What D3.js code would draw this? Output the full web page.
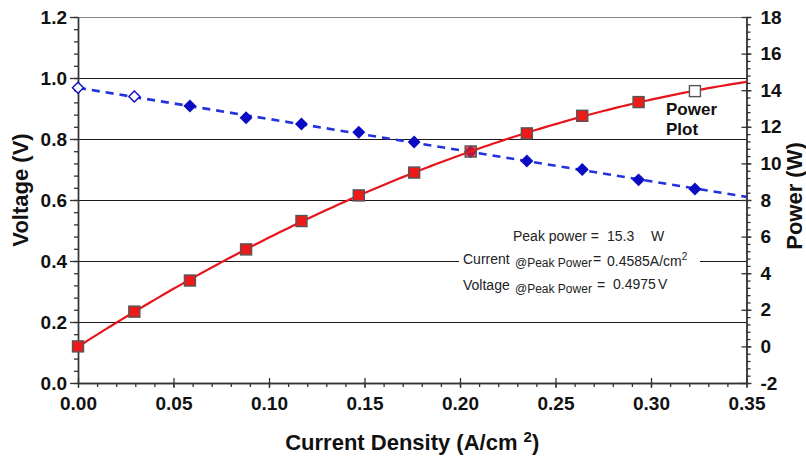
<!DOCTYPE html>
<html>
<head>
<meta charset="utf-8">
<script src="https://cdn.jsdelivr.net/npm/d3@7"></script>
<style>
  body { margin: 0; background: #fff; }
  svg { display: block; font-family: "Liberation Sans", Arial, sans-serif; }
</style>
</head>
<body>
<div id="chart"></div>
<script>
// Measured points (current density in A/cm2, voltage in V, power in W)
const currentDensity = [0.000, 0.0295, 0.0586, 0.088, 0.117, 0.147, 0.176, 0.2056, 0.235, 0.264, 0.2935, 0.323];
const voltage = [0.968, 0.939, 0.908, 0.870, 0.849, 0.822, 0.790, 0.758, 0.728, 0.700, 0.666, 0.636];
const power = [0.0, 1.9, 3.6, 5.3, 6.85, 8.25, 9.5, 10.65, 11.64, 12.6, 13.35, 13.95];

// Tick values
const currentTicks = [0, 0.05, 0.10, 0.15, 0.20, 0.25, 0.30, 0.35];
const voltageTicks = [0, 0.2, 0.4, 0.6, 0.8, 1.0, 1.2];
const powerTicks = [-2, 0, 2, 4, 6, 8, 10, 12, 14, 16, 18];

const width = 806, height = 457;
const margin = { top: 17, right: 59.5, bottom: 74, left: 78 };

const svg = d3.select("#chart")
    .append("svg")
    .attr("width", width)
    .attr("height", height);

const x = d3.scaleLinear().domain([0, 0.35]).range([margin.left, width - margin.right]);
const yV = d3.scaleLinear().domain([0, 1.2]).range([height - margin.bottom, margin.top]);
const yP = d3.scaleLinear().domain([-2, 18]).range([height - margin.bottom, margin.top]);

// horizontal grid lines
svg.append("g")
    .selectAll("line")
    .data(voltageTicks.filter(d => d > 0))
    .join("line")
    .attr("x1", x(0))
    .attr("x2", x(0.35))
    .attr("y1", d => Math.round(yV(d)) + 0.5)
    .attr("y2", d => Math.round(yV(d)) + 0.5)
    .attr("stroke", d => d === 1.2 ? "#8a8a8a" : "#1a1a1a")
    .attr("stroke-width", 1.1);

// ---- axes ----
function styleAxis(g) {
    g.select(".domain").attr("stroke", "#333").attr("stroke-width", 1.4);
    g.selectAll(".tick line").attr("stroke", "#333").attr("stroke-width", 1.3);
    g.selectAll("text")
        .attr("font-family", "Liberation Sans, Arial, sans-serif")
        .attr("font-size", 19)
        .attr("font-weight", "bold")
        .attr("fill", "#111");
}

// left minor + major
svg.append("g")
    .attr("transform", `translate(${x(0)},0)`)
    .call(d3.axisLeft(yV).tickValues(d3.range(0, 1.2001, 0.04)).tickSize(4).tickSizeOuter(0).tickFormat(""))
    .call(styleAxis);
svg.append("g")
    .attr("transform", `translate(${x(0)},0)`)
    .call(d3.axisLeft(yV).tickValues(voltageTicks).tickSize(8).tickPadding(3).tickSizeOuter(0).tickFormat(d3.format(".1f")))
    .call(styleAxis);

// bottom minor + major
svg.append("g")
    .attr("transform", `translate(0,${yV(0)})`)
    .call(d3.axisBottom(x).tickValues(d3.range(0, 0.3501, 0.01)).tickSize(4).tickSizeOuter(0).tickFormat(""))
    .call(styleAxis);
svg.append("g")
    .attr("transform", `translate(0,${yV(0)})`)
    .call(d3.axisBottom(x).tickValues(currentTicks).tickSize(5).tickPadding(9).tickSizeOuter(0).tickFormat(d3.format(".2f")))
    .call(styleAxis)
    .call(g => g.selectAll(".tick line").attr("y1", -5));

// right minor + major
svg.append("g")
    .attr("transform", `translate(${x(0.35)},0)`)
    .call(d3.axisRight(yP).tickValues(d3.range(-2, 18.001, 0.4)).tickSize(4).tickSizeOuter(0).tickFormat(""))
    .call(styleAxis);
svg.append("g")
    .attr("transform", `translate(${x(0.35)},0)`)
    .call(d3.axisRight(yP).tickValues(powerTicks).tickSize(5).tickPadding(9).tickSizeOuter(0).tickFormat(d => String(d)))
    .call(styleAxis)
    .call(g => g.selectAll(".tick line").attr("x1", -5));

// axis titles
svg.append("text")
    .attr("transform", `translate(28,190) rotate(-90)`)
    .attr("text-anchor", "middle")
    .attr("font-size", 22)
    .attr("font-weight", "bold")
    .attr("fill", "#111")
    .text("Voltage (V)");

svg.append("text")
    .attr("transform", `translate(802,196) rotate(-90)`)
    .attr("text-anchor", "middle")
    .attr("font-size", 22)
    .attr("font-weight", "bold")
    .attr("fill", "#111")
    .text("Power (W)");

const xTitle = svg.append("text")
    .attr("x", (x(0) + x(0.35)) / 2)
    .attr("y", 450)
    .attr("text-anchor", "middle")
    .attr("font-size", 22)
    .attr("font-weight", "bold")
    .attr("fill", "#111");
xTitle.append("tspan").text("Current Density (A/cm ");
xTitle.append("tspan").attr("font-size", 15).attr("dy", -8).text("2");
xTitle.append("tspan").attr("dy", 8).text(")");

// ---- fits ----
const n = currentDensity.length;
// linear least squares for voltage
const mx = d3.mean(currentDensity), mv = d3.mean(voltage);
const slope = d3.sum(currentDensity, (c, i) => (c - mx) * (voltage[i] - mv)) / d3.sum(currentDensity, c => (c - mx) ** 2);
const intercept = mv - slope * mx;

// quadratic least squares for power
function quadFit(xs, ys) {
    const s = k => d3.sum(xs, v => v ** k);
    const t = k => d3.sum(xs, (v, i) => v ** k * ys[i]);
    const A = [[s(0), s(1), s(2)], [s(1), s(2), s(3)], [s(2), s(3), s(4)]];
    const b = [t(0), t(1), t(2)];
    const det = m => m[0][0] * (m[1][1] * m[2][2] - m[1][2] * m[2][1])
        - m[0][1] * (m[1][0] * m[2][2] - m[1][2] * m[2][0])
        + m[0][2] * (m[1][0] * m[2][1] - m[1][1] * m[2][0]);
    const D = det(A);
    return [0, 1, 2].map(j => det(A.map((row, r) => row.map((v, c) => c === j ? b[r] : v))) / D);
}
const pc = quadFit(currentDensity, power);
const fitX = d3.range(0, 0.35001, 0.0025);

svg.append("path")
    .datum([0, 0.35])
    .attr("fill", "none")
    .attr("stroke", "#2233dd")
    .attr("stroke-width", 2.6)
    .attr("stroke-dasharray", "8,6")
    .attr("d", d3.line().x(d => x(d)).y(d => yV(intercept + slope * d)));

// voltage markers (square rotated 45deg)
const diamond = "M0,-5.5L5.5,0L0,5.5L-5.5,0Z";
svg.append("g")
    .selectAll("path")
    .data(currentDensity)
    .join("path")
    .attr("transform", (d, i) => `translate(${x(d)},${yV(voltage[i])})`)
    .attr("d", diamond)
    .attr("fill", (d, i) => i < 2 ? "#fff" : "#0b0bc4")
    .attr("stroke", "#0b0bc4")
    .attr("stroke-width", 1.4);

svg.append("path")
    .datum(fitX)
    .attr("fill", "none")
    .attr("stroke", "#e8141c")
    .attr("stroke-width", 2.2)
    .attr("d", d3.line().x(d => x(d)).y(d => yP(pc[0] + pc[1] * d + pc[2] * d * d)));

// power markers
svg.append("g")
    .selectAll("rect")
    .data(currentDensity)
    .join("rect")
    .attr("x", d => x(d) - 5.5)
    .attr("y", (d, i) => yP(power[i]) - 5.5)
    .attr("width", 11)
    .attr("height", 11)
    .attr("fill", (d, i) => i === n - 1 ? "#fff" : "#ee1a1a")
    .attr("fill-opacity", (d, i) => i === 7 ? 0.75 : 1)
    .attr("stroke", "#555")
    .attr("stroke-width", 1.4);

// "Power Plot" label
svg.append("text")
    .attr("x", 666).attr("y", 115)
    .attr("font-size", 17).attr("font-weight", "bold").attr("fill", "#111")
    .text("Power");
svg.append("text")
    .attr("x", 666).attr("y", 135)
    .attr("font-size", 17).attr("font-weight", "bold").attr("fill", "#111")
    .text("Plot");

// peak power annotations
const note = svg.append("g").attr("fill", "#222").attr("font-size", 14);
note.append("rect")
    .attr("x", 459).attr("y", 251).attr("width", 241).attr("height", 19)
    .attr("fill", "#fff");

note.append("text").attr("x", 513).attr("y", 241).text("Peak power =");
note.append("text").attr("x", 607).attr("y", 241).text("15.3");
note.append("text").attr("x", 651).attr("y", 241).text("W");

note.append("text").attr("x", 463).attr("y", 264).text("Current");
note.append("text").attr("x", 515).attr("y", 267).attr("font-size", 12).text("@Peak Power");
note.append("text").attr("x", 593).attr("y", 264).text("=");
const cur = note.append("text").attr("x", 607).attr("y", 266);
cur.append("tspan").text("0.4585A/cm");
cur.append("tspan").attr("font-size", 10).attr("dy", -6).text("2");

note.append("text").attr("x", 463).attr("y", 290).text("Voltage");
note.append("text").attr("x", 515).attr("y", 293).attr("font-size", 12).text("@Peak Power");
note.append("text").attr("x", 597).attr("y", 290).text("=");
note.append("text").attr("x", 613).attr("y", 289).text("0.4975");
note.append("text").attr("x", 658).attr("y", 289).text("V");
</script>
</body>
</html>
